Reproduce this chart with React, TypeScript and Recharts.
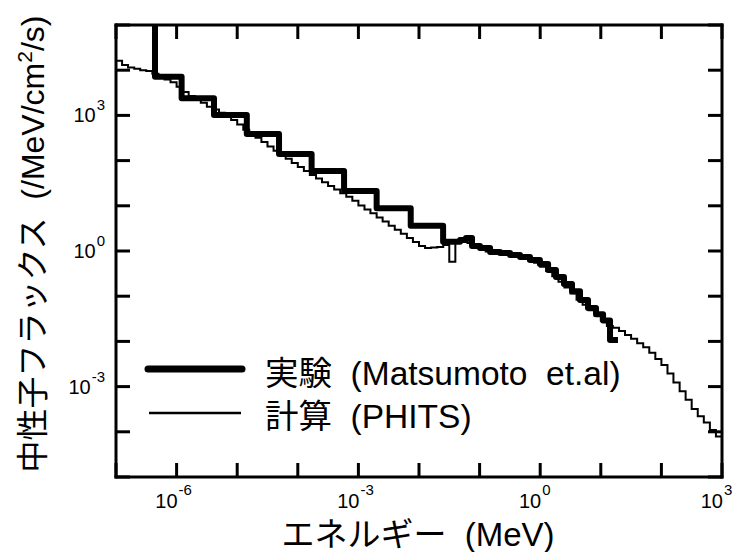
import { LineChart, Line, XAxis, YAxis, Legend } from 'recharts';

const FONT = "'Liberation Sans', Arial, 'Noto Sans CJK JP', sans-serif";

// PHITS histogram: bin edges = decade x mantissa, 0.1-decade bins
const energyDecades = [1e-7, 1e-6, 1e-5, 1e-4, 1e-3, 1e-2, 1e-1, 1, 10, 100];
const energyMantissa = [1, 1.26, 1.58, 2, 2.51, 3.16, 3.98, 5.01, 6.31, 7.94];
const energyMax = 1000;

const phitsFlux = [
  16200, 13000, 11500, 10700, 10000, 9550, 8300, 7100, 6200, 5400,
  4300, 3300, 2700, 2350, 1900, 1550, 1350, 1150, 980, 790,
  630, 480, 390, 320, 257, 204, 166, 135, 110, 89,
  72, 59, 48, 40, 33, 27.5, 23, 19, 15.8, 12.9,
  10.2, 8.3, 6.8, 5.5, 4.5, 3.6, 2.95, 2.4, 1.95, 1.58,
  1.29, 1.17, 1.2, 1.23, 1.35, 0.58, 1.66, 1.9, 1.51, 1.23,
  1.1, 0.98, 0.93, 0.91, 0.83, 0.79, 0.74, 0.68, 0.62, 0.55,
  0.45, 0.36, 0.275, 0.21, 0.155, 0.115, 0.083, 0.065, 0.049, 0.037,
  0.029, 0.022, 0.02, 0.017, 0.0138, 0.0115, 0.0091, 0.0074, 0.0056, 0.0041,
  0.003, 0.00195, 0.00123, 0.00079, 0.00051, 0.00032, 0.00022, 0.00016, 0.00011, 0.000079,
];

// Matsumoto et al. measurement (step start energies)
const exptEnergy = [
  4.4e-7, 4.4e-7, 1.21e-6, 4.14e-6, 1.44e-5, 4.9e-5, 1.69e-4, 5.8e-4, 2.0e-3, 7.3e-3,
  0.025, 0.0475, 0.0597, 0.075, 0.1016, 0.149, 0.217, 0.318, 0.465, 0.68,
  0.99, 1.35, 1.82, 2.47, 3.35, 4.54, 6.15, 8.34, 10.9, 14.2, 19.2,
];
const exptFlux = [
  1e5, 7200, 2390, 1020, 387, 140, 59, 21.2, 8.8, 3.63,
  1.6, 1.75, 1.94, 1.29, 1.16, 0.95, 0.9, 0.82, 0.74, 0.63,
  0.515, 0.38, 0.266, 0.186, 0.128, 0.082, 0.055, 0.04, 0.029, 0.0107, 0.0107,
];

const xTicks = [1e-7, 1e-6, 1e-5, 1e-4, 1e-3, 1e-2, 1e-1, 1, 10, 100, 1000];
const yTicks = [1e-5, 1e-4, 1e-3, 1e-2, 1e-1, 1, 10, 100, 1e3, 1e4, 1e5];
const xLabels: Record<string, string> = { '0.000001': '-6', '0.001': '-3', '1': '0', '1000': '3' };
const yLabels: Record<string, string> = { '0.001': '-3', '1': '0', '1000': '3' };

const phitsEdges = energyDecades.flatMap((d) => energyMantissa.map((m) => m * d));
const phitsData = phitsEdges
  .map((e, i) => ({ e, f: phitsFlux[i] }))
  .concat([{ e: energyMax, f: phitsFlux[phitsFlux.length - 1] }]);
const exptData = exptEnergy.map((e, i) => ({ e, f: exptFlux[i] }));

const TICK = 14;
const frame = { stroke: '#000', strokeWidth: 3, strokeLinecap: 'square' as const };

const BottomTick = ({ x, y, payload }: any) => {
  const exp = xLabels[String(payload.value)];
  return (
    <g>
      <line x1={x} x2={x} y1={y} y2={y - TICK} stroke="#000" strokeWidth={3} />
      {exp && (
        <>
          <text x={x + 1} y={y + 31} textAnchor="end" fontSize={20} fontFamily={FONT} fill="#000">10</text>
          <text x={x + 2} y={y + 18} textAnchor="start" fontSize={15} fontFamily={FONT} fill="#000">{exp}</text>
        </>
      )}
    </g>
  );
};

const TopTick = ({ x, y }: any) => (
  <line x1={x} x2={x} y1={y} y2={y + TICK} stroke="#000" strokeWidth={3} />
);

const LeftTick = ({ x, y, payload }: any) => {
  const exp = yLabels[String(payload.value)];
  return (
    <g>
      <line x1={x} x2={x + TICK} y1={y} y2={y} stroke="#000" strokeWidth={3} />
      {exp && (
        <text x={x - 11} y={y + 7} textAnchor="end" fontFamily={FONT} fill="#000">
          <tspan fontSize={20}>10</tspan>
          <tspan fontSize={15} dx={1} dy={-12}>{exp}</tspan>
        </text>
      )}
    </g>
  );
};

const RightTick = ({ x, y }: any) => (
  <line x1={x} x2={x - TICK} y1={y} y2={y} stroke="#000" strokeWidth={3} />
);

const LegendBox = () => (
  <svg width={520} height={100} style={{ display: 'block', overflow: 'visible' }}>
    <line x1={8} x2={102} y1={24} y2={24} stroke="#000" strokeWidth={7} strokeLinecap="round" />
    <line x1={9} x2={101} y1={68} y2={68} stroke="#000" strokeWidth={2.5} />
    <text x={125} y={40} fontSize={33.5} fontFamily={FONT} fill="#000" style={{ whiteSpace: 'pre' }}>
      {'実験  (Matsumoto  et.al)'}
    </text>
    <text x={125} y={83} fontSize={33.5} fontFamily={FONT} fill="#000" style={{ whiteSpace: 'pre' }}>
      {'計算  (PHITS)'}
    </text>
  </svg>
);

export default function App() {
  return (
    <div style={{ position: 'absolute', left: 0, top: 0, width: 739, height: 552, background: '#fff' }}>
      <LineChart width={739} height={552} margin={{ top: 24, right: 16, bottom: 74, left: 115 }}>
        <XAxis
          xAxisId="b"
          dataKey="e"
          type="number"
          scale="log"
          domain={[1e-7, 1e3]}
          allowDataOverflow
          ticks={xTicks}
          interval={0}
          height={1}
          tickSize={0}
          tickMargin={0}
          tickLine={false}
          axisLine={frame}
          tick={<BottomTick />}
        />
        <XAxis
          xAxisId="t"
          orientation="top"
          dataKey="e"
          type="number"
          scale="log"
          domain={[1e-7, 1e3]}
          allowDataOverflow
          ticks={xTicks}
          interval={0}
          height={1}
          tickSize={0}
          tickMargin={0}
          tickLine={false}
          axisLine={frame}
          tick={<TopTick />}
        />
        <YAxis
          yAxisId="l"
          type="number"
          scale="log"
          domain={[1e-5, 1e5]}
          allowDataOverflow
          ticks={yTicks}
          interval={0}
          width={1}
          tickSize={0}
          tickMargin={0}
          tickLine={false}
          axisLine={frame}
          tick={<LeftTick />}
        />
        <YAxis
          yAxisId="r"
          orientation="right"
          type="number"
          scale="log"
          domain={[1e-5, 1e5]}
          allowDataOverflow
          ticks={yTicks}
          interval={0}
          width={1}
          tickSize={0}
          tickMargin={0}
          tickLine={false}
          axisLine={frame}
          tick={<RightTick />}
        />
        <Line
          xAxisId="b"
          yAxisId="l"
          data={phitsData}
          dataKey="f"
          type="stepAfter"
          stroke="#000"
          strokeWidth={2}
          dot={false}
          isAnimationActive={false}
        />
        <Line
          xAxisId="b"
          yAxisId="l"
          data={exptData}
          dataKey="f"
          type="stepAfter"
          stroke="#000"
          strokeWidth={6}
          strokeLinejoin="round"
          dot={false}
          isAnimationActive={false}
        />
        <Legend
          layout="vertical"
          align="center"
          verticalAlign="middle"
          wrapperStyle={{ left: 140, top: 345, width: 520 }}
          content={<LegendBox />}
        />
        <text x={418} y={546} textAnchor="middle" fontSize={33} fontFamily={FONT} fill="#000" style={{ whiteSpace: 'pre' }}>
          {'エネルギー  (MeV)'}
        </text>
        <text
          x={44}
          y={244}
          transform="rotate(-90, 44, 244)"
          textAnchor="middle"
          fontSize={32}
          fontFamily={FONT}
          fill="#000"
          style={{ whiteSpace: 'pre' }}
        >
          <tspan>{'中性子フラックス  (/MeV/cm'}</tspan>
          <tspan fontSize={21} dy={-12}>2</tspan>
          <tspan dy={12}>/s)</tspan>
        </text>
      </LineChart>
    </div>
  );
}
